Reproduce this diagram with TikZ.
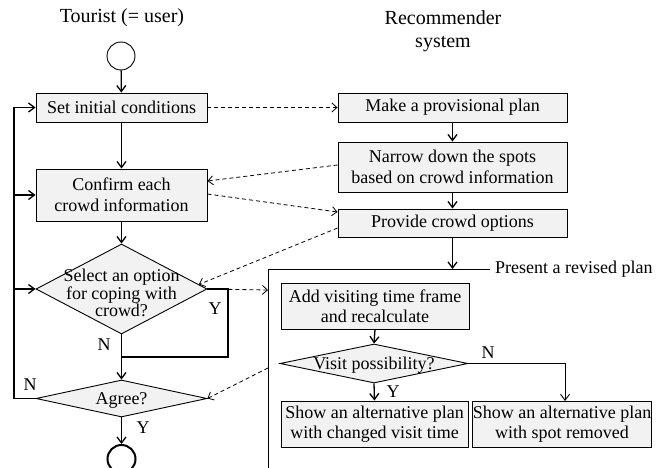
\documentclass[tikz,border=0pt]{standalone}
\usepackage{fontspec}
\setmainfont{Liberation Serif}
\usetikzlibrary{arrows.meta,shapes.geometric,calc}
\definecolor{boxfill}{RGB}{242,242,242}
\begin{document}
\begin{tikzpicture}[x=1pt,y=-1pt,
  every node/.style={font=\fontsize{18}{21}\selectfont},
  box/.style={draw, line width=0.9pt, fill=boxfill, inner sep=0pt, align=center},
  dia/.style={draw, diamond, line width=0.9pt, fill=boxfill, inner sep=0pt},
  flow/.style={line width=1.3pt, -{Straight Barb[length=6pt,width=9pt]}},
  thinflow/.style={line width=0.9pt, -{Straight Barb[length=6pt,width=9pt]}},
  plain/.style={line width=1.3pt},
  frameline/.style={line width=1pt},
  msg/.style={line width=0.8pt, dash pattern=on 4pt off 3pt, -{Straight Barb[length=5pt,width=9pt]}},
  lbl/.style={inner sep=0pt},
  term/.style={circle, draw, minimum size=28pt, inner sep=0pt}
]
\useasboundingbox (0,0) rectangle (659,468);

% titles
\node[lbl, font=\fontsize{20}{23}\selectfont] (t1) at (122,18) {Tourist (= user)};
\node[lbl, font=\fontsize{20}{23}\selectfont, align=center] (t2) at (443,31) {Recommender\\system};

% left column
\node[term, line width=0.9pt] (start) at (121,56) {};
\node[box, minimum width=171pt, minimum height=29pt] (set) at (121.5,107.5) {Set initial conditions};
\node[box, minimum width=171pt, minimum height=52pt, font=\fontsize{18}{21.5}\selectfont] (confirm) at (121.5,195) {Confirm each\\crowd information};
\node[dia, minimum width=171pt, minimum height=90pt] (select) at (121.5,289) {};
\node[lbl, align=center, font=\fontsize{18}{17.5}\selectfont] (selecttxt) at (121.5,293) {Select an option\\for coping with\\crowd?};
\node[dia, minimum width=171pt, minimum height=37pt] (agree) at (121.5,398.5) {};
\node[lbl] (agreetxt) at (121.5,400) {Agree?};
\node[term, line width=2pt] (end) at (121.5,459) {};

% right column
\node[box, minimum width=229pt, minimum height=29pt] (make) at (452.5,107.5) {Make a provisional plan};
\node[box, minimum width=229pt, minimum height=50pt, font=\fontsize{18}{20.7}\selectfont] (narrow) at (452.5,167) {Narrow down the spots\\based on crowd information};
\node[box, minimum width=229pt, minimum height=28pt] (provide) at (452.5,223) {Provide crowd options};

% revised plan frame
\coordinate (ftl) at (268,269);
\coordinate (fbl) at (268,470);
\coordinate (ftr) at (490,269);
\coordinate (fin) at (452.5,269);
\coordinate (fsel) at (268,290);
\coordinate (fagr) at (268,368);
\draw[frameline] (fbl) -- (ftl) -- (ftr);
\node[lbl, anchor=west] (revised) at (495,269) {Present a revised plan};

\node[box, minimum width=188pt, minimum height=46pt, font=\fontsize{18}{19.5}\selectfont] (add) at (375,306) {Add visiting time frame\\and recalculate};
\node[dia, minimum width=188pt, minimum height=39pt] (visit) at (374,363.5) {};
\node[lbl] (visittxt) at (374,365) {Visit possibility?};
\node[box, minimum width=187pt, minimum height=46pt, font=\fontsize{18}{20}\selectfont] (show1) at (374.5,424) {Show an alternative plan\\with changed visit time};
\node[box, minimum width=172pt, minimum height=46pt, font=\fontsize{18}{20}\selectfont] (show2) at (562,424) {Show an alternative plan\\with spot removed};

% left flow
\draw[flow] (start) -- (set);
\draw[flow] (set) -- (confirm);
\draw[flow] (confirm) -- (select);
\coordinate (join) at (121.5,357);
\coordinate (yr) at (228,289);
\coordinate (yb) at (228,357);
\draw[plain] (select.east) -- (yr) -- (yb) -- (join);
\draw[flow] (select.south) -- (agree.north);
\draw[flow] (agree.south) -- (end.north);
\coordinate (nl) at (14,398.5);
\coordinate (ntop) at (14,107.5);
\coordinate (nc) at (14,195);
\coordinate (ns) at (14,289);
\draw[plain] (agree.west) -- (nl) -- (ntop);
\draw[flow] (ntop) -- (set.west);
\draw[flow] (nc) -- (confirm.west);
\draw[flow] (ns) -- (select.west);

% labels
\node[lbl] (lN1) at (104,345) {N};
\node[lbl] (lY1) at (215,309) {Y};
\node[lbl] (lN2) at (30,385) {N};
\node[lbl] (lY2) at (143,428) {Y};
\node[lbl] (lY3) at (393,392) {Y};
\node[lbl] (lN3) at (488,353) {N};

% right flow
\draw[flow] (make) -- (narrow);
\draw[flow] (narrow) -- (provide);
\draw[flow] (provide.south) -- (fin);
\draw[flow] (add.south) -- (visit.north);
\draw[flow] (visit.south) -- (show1.north);
\coordinate (vr) at (565,363.5);
\coordinate (vd) at (565,401);
\draw[thinflow] (visit.east) -- (vr) -- (vd);

% dashed messages
\draw[msg] (set.east) -- (make.west);
\draw[msg] ($(narrow.west)+(0,-2)$) -- ($(confirm.east)+(0,-14)$);
\draw[msg] ($(confirm.east)+(0,-1)$) -- ($(provide.west)+(0,-11)$);
\draw[msg] ($(provide.west)+(0,5)$) -- ($(select.north)!0.9!(select.east)$);
\draw[msg] (select.east) -- (fsel);
\draw[msg] (fagr) -- (agree.east);
\end{tikzpicture}
\end{document}
